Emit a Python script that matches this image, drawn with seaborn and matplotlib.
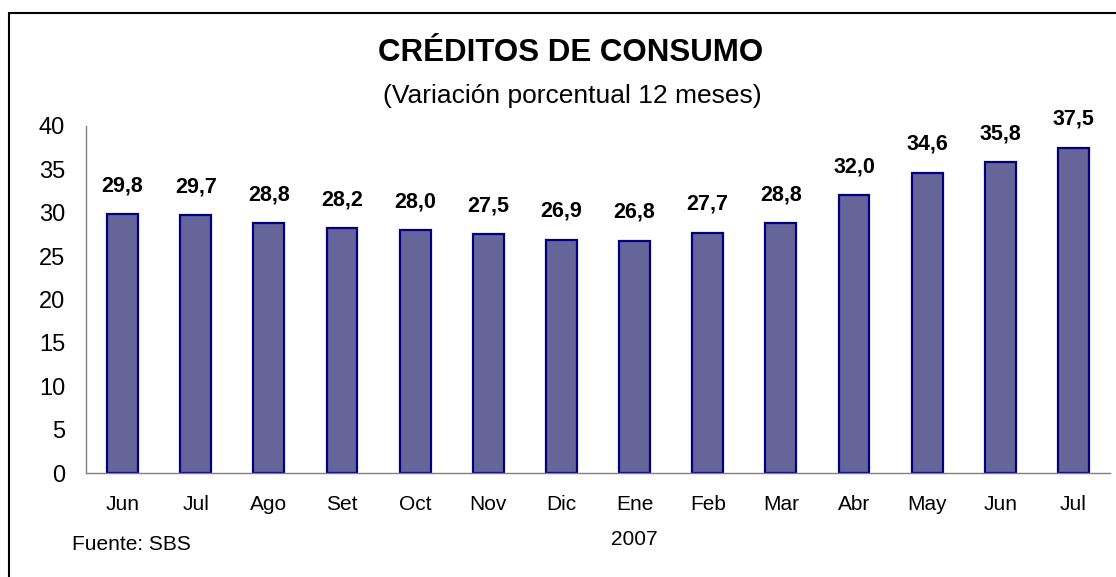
import matplotlib
matplotlib.use("Agg")
import matplotlib.pyplot as plt
from matplotlib.patches import Rectangle
from matplotlib.ticker import FixedLocator
import seaborn as sns
import pandas as pd
import numpy as np

meses = ["Jun", "Jul", "Ago", "Set", "Oct", "Nov", "Dic", "Ene",
         "Feb", "Mar", "Abr", "May", "Jun", "Jul"]
valores = [29.8, 29.7, 28.8, 28.2, 28.0, 27.5, 26.9, 26.8,
           27.7, 28.8, 32.0, 34.6, 35.8, 37.5]
etiquetas = ["29,8", "29,7", "28,8", "28,2", "28,0", "27,5", "26,9", "26,8",
             "27,7", "28,8", "32,0", "34,6", "35,8", "37,5"]

df = pd.DataFrame({"clave": [f"{m}_{i}" for i, m in enumerate(meses)],
                   "valor": valores})

sns.set_style("white")
plt.rcParams["font.family"] = ["Liberation Sans", "DejaVu Sans"]
plt.rcParams["text.color"] = "black"
plt.rcParams["xtick.color"] = "black"
plt.rcParams["ytick.color"] = "black"

fig = plt.figure(figsize=(11.16, 5.77), dpi=100)
ax = fig.add_axes([86/1116, 1 - 473/577, (1110 - 86)/1116, (473 - 126)/577])

sns.barplot(data=df, x="clave", y="valor", color="#65659a", saturation=1,
            width=0.42, edgecolor="#000080", linewidth=1.6, ax=ax)

ax.set_ylim(0, 40)
ax.set_xlim(-0.5, len(meses) - 0.5)
ax.set_yticks(range(0, 41, 5))
ax.set_xticks(range(len(meses)))
ax.set_xticklabels(meses, fontsize=15)
ax.tick_params(axis="x", which="major", length=0, pad=16)
ax.xaxis.set_minor_locator(FixedLocator(np.arange(-0.5, len(meses), 1)))
ax.tick_params(axis="x", which="minor", length=6, width=1, color="#808080",
               direction="out")
ax.tick_params(axis="y", labelsize=17, length=7, width=1, color="#808080",
               direction="out", pad=8)
ax.set_xlabel("")
ax.set_ylabel("")
for s in ["top", "right"]:
    ax.spines[s].set_visible(False)
for s in ["left", "bottom"]:
    ax.spines[s].set_color("#808080")
    ax.spines[s].set_linewidth(1)

for i, (v, t) in enumerate(zip(valores, etiquetas)):
    ax.annotate(t, (i, v), xytext=(0, 13), textcoords="offset points",
                ha="center", va="bottom", fontsize=15.5, fontweight="bold")

ax.text(7, -0.165, "2007", transform=ax.get_xaxis_transform(),
        ha="center", va="top", fontsize=15)

fig.text(571/1116, 1 - 53/577, "CRÉDITOS DE CONSUMO", ha="center",
         va="center", fontsize=22.5, fontweight="bold")
fig.text(572/1116, 1 - 96/577, "(Variación porcentual 12 meses)",
         ha="center", va="center", fontsize=19)
fig.text(72/1116, 1 - 545/577, "Fuente: SBS", ha="left", va="center",
         fontsize=15)

fig.patches.append(Rectangle((9/1116, -0.1), 1.2, 1.1 - 13/577,
                             transform=fig.transFigure, fill=False,
                             edgecolor="black", linewidth=1.5))

fig.savefig("out.png", dpi=100)
